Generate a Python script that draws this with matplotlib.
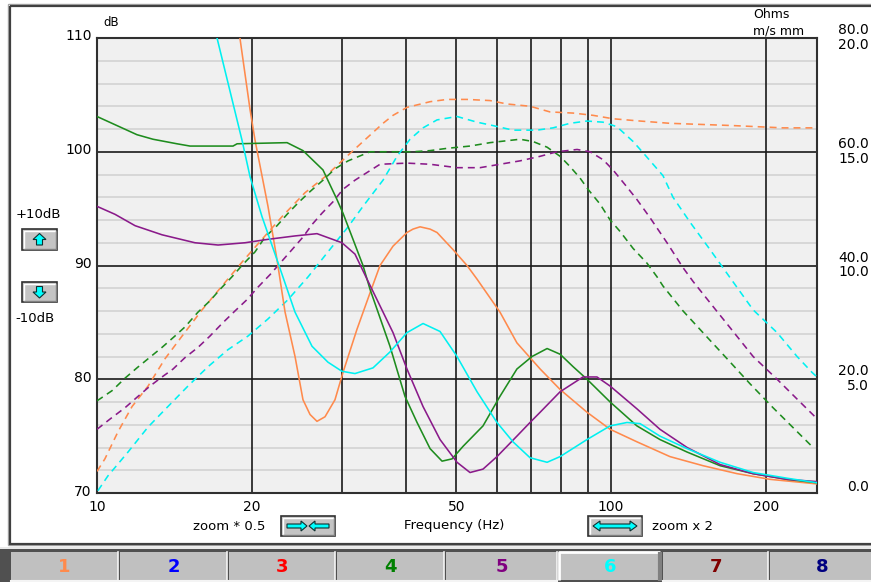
import matplotlib
matplotlib.use("Agg")
import matplotlib.pyplot as plt
import matplotlib.transforms as mtransforms
from matplotlib.patches import Rectangle, Polygon

plt.rcParams['font.family'] = ['DejaVu Sans']
plt.rcParams['lines.scale_dashes'] = False

# ---------------- data (frequency in Hz, level in dB) ----------------
orange_f = [18.97, 19.85, 20.30, 21.51, 22.40, 23.22, 24.28, 25.16, 25.97, 26.79, 27.77, 29.04,
            30.1, 32.05, 33.98, 35.53, 37.66, 38.86, 40.09, 41.19, 42.51, 44.46, 45.87, 49.27,
            52.46, 54.87, 60.81, 65.6, 72.8, 79.6, 89.8, 99.6, 112.3, 130.2, 151.0, 175.9,
            203.9, 251.6]
orange_db = [110, 103.7, 101.0, 95.2, 90.5, 85.9, 82.0, 78.2, 76.9, 76.3, 76.7, 78.2,
             80.6, 84.4, 87.6, 90.0, 91.7, 92.3, 92.9, 93.2, 93.4, 93.2, 92.9, 91.4,
             90.0, 88.8, 85.9, 83.2, 80.9, 79.1, 77.1, 75.6, 74.5, 73.2, 72.4, 71.7,
             71.2, 70.8]

green_f = [10.0, 11.96, 12.85, 14.31, 15.17, 18.39, 18.73, 23.43, 25.16, 27.52, 29.30, 30.1,
           31.48, 32.92, 33.98, 37.15, 39.73, 41.94, 44.46, 46.91, 49.06, 51.53, 56.36, 60.81,
           65.6, 70.2, 75.1, 79.6, 84.4, 89.8, 99.6, 112.3, 124.5, 140.6, 163.0, 189.0, 220.0, 251.6]
green_db = [103.1, 101.5, 101.1, 100.7, 100.5, 100.5, 100.7, 100.8, 100.1, 98.4, 95.8, 94.6,
            92.3, 90.0, 87.9, 82.9, 78.5, 76.2, 73.9, 72.8, 73.0, 74.1, 75.9, 78.5,
            80.9, 82.0, 82.7, 82.2, 81.1, 80.0, 78.0, 75.9, 74.7, 73.6, 72.4, 71.7, 71.2, 70.9]

purple_f = [10.0, 10.84, 11.86, 13.38, 15.51, 17.20, 19.41, 21.51, 24.28, 26.79, 29.96, 31.76,
            33.52, 37.66, 40.09, 43.08, 46.49, 50.16, 53.17, 56.36, 60.0, 65.6, 69.57, 72.8,
            79.6, 88.2, 93.9, 99.6, 112.3, 124.5, 140.6, 163.0, 189.0, 220.0, 251.6]
purple_db = [95.2, 94.5, 93.5, 92.7, 92.0, 91.8, 92.0, 92.3, 92.6, 92.8, 92.0, 91.0,
             88.8, 84.1, 80.9, 77.6, 74.7, 72.7, 71.8, 72.1, 73.2, 75.0, 76.2, 77.1,
             78.9, 80.2, 80.2, 79.4, 77.4, 75.6, 74.0, 72.5, 71.7, 71.2, 71.0]

cyan_f = [17.12, 19.15, 19.85, 20.94, 22.40, 24.28, 26.20, 28.14, 29.96, 31.76, 34.43, 37.15,
          40.09, 43.08, 46.49, 50.16, 54.87, 60.0, 64.46, 69.57, 75.1, 79.6, 89.8, 99.6,
          107.4, 113.9, 124.5, 140.6, 163.0, 189.0, 220.0, 251.6]
cyan_db = [110, 101.0, 97.8, 94.3, 90.5, 85.9, 82.9, 81.5, 80.7, 80.5, 81.0, 82.4,
           84.1, 84.9, 84.2, 82.0, 78.9, 76.2, 74.5, 73.1, 72.7, 73.2, 74.7, 75.9,
           76.2, 76.1, 75.0, 73.9, 72.7, 71.8, 71.3, 70.9]

orange_d_f = [10.0, 10.36, 10.99, 11.70, 12.57, 13.56, 14.64, 16.01, 17.51, 19.15, 20.94, 22.91,
              25.39, 27.77, 30.8, 36.01, 37.66, 40.09, 44.46, 47.97, 52.46, 58.15, 62.75, 69.57,
              76.1, 84.4, 92.3, 100.9, 113.9, 130.2, 172.8, 216.1, 251.6]
orange_d_db = [71.9, 73.0, 75.4, 77.6, 79.4, 81.8, 83.8, 86.1, 88.2, 90.3, 92.3, 94.3,
               96.4, 97.8, 99.7, 102.5, 103.2, 103.9, 104.4, 104.6, 104.6, 104.5, 104.2, 104.0,
               103.5, 103.4, 103.2, 102.9, 102.7, 102.5, 102.3, 102.1, 102.1]

green_d_f = [10.0, 10.70, 11.34, 11.96, 12.57, 13.38, 14.18, 14.83, 15.72, 16.59, 17.35, 18.30,
             19.23, 20.30, 21.23, 22.40, 23.43, 24.61, 25.97, 27.52, 29.04, 30.8, 33.98, 41.19,
             44.46, 47.97, 53.17, 58.15, 63.6, 66.53, 70.5, 75.1, 79.6, 83.2, 87.0, 90.2,
             95.2, 99.6, 104.1, 110.4, 117.5, 122.9, 126.2, 138.1, 153.8, 168.2, 186.4, 206.6,
             230.1, 247.2]
green_d_db = [78.1, 79.0, 80.1, 81.0, 81.8, 82.8, 83.8, 84.6, 85.9, 86.9, 87.9, 89.0,
              90.1, 91.2, 92.5, 93.5, 94.5, 95.5, 96.5, 97.5, 98.5, 99.2, 100.0, 100.0,
              100.1, 100.3, 100.5, 100.8, 101.0, 101.1, 100.9, 100.4, 99.6, 98.7, 97.7, 96.7,
              95.4, 94.0, 93.0, 91.5, 90.2, 89.0, 88.2, 86.0, 83.7, 81.8, 79.6, 77.5,
              75.4, 74.0]

purple_d_f = [10.0, 10.60, 11.34, 12.02, 12.68, 13.38, 14.06, 14.83, 15.72, 16.59, 17.51, 18.55,
              19.58, 20.57, 21.71, 22.91, 23.96, 25.16, 26.20, 27.40, 28.78, 30.1, 31.76, 35.53,
              40.09, 44.46, 50.16, 55.61, 60.81, 66.53, 72.8, 78.5, 85.9, 91.0, 96.5, 100.9,
              107.4, 112.3, 119.1, 128.5, 138.1, 144.4, 157.9, 172.8, 189.0, 210.4, 233.2, 249.4]
purple_d_db = [75.6, 76.5, 77.5, 78.5, 79.4, 80.2, 80.9, 81.9, 82.8, 83.8, 84.9, 86.0,
               87.0, 88.1, 89.2, 90.4, 91.4, 92.5, 93.6, 94.6, 95.6, 96.7, 97.5, 98.9,
               99.0, 98.9, 98.6, 98.6, 98.9, 99.2, 99.6, 100.0, 100.2, 100.0, 99.3, 98.4,
               96.9, 95.8, 94.2, 92.0, 89.8, 88.6, 86.4, 84.2, 82.0, 80.0, 78.0, 76.7]

cyan_d_f = [10.04, 10.50, 11.49, 12.57, 13.74, 15.03, 16.44, 17.98, 19.67, 21.51, 23.53, 25.74,
            28.14, 30.8, 32.92, 36.01, 38.34, 40.64, 43.08, 45.87, 50.16, 54.87, 58.94, 64.46,
            71.8, 77.1, 83.2, 89.8, 96.5, 102.7, 110.4, 115.0, 126.2, 132.0, 142.5, 155.8,
            170.0, 189.0, 210.4, 230.1, 246.1, 251.6]
cyan_d_db = [70.2, 71.5, 73.6, 75.8, 77.6, 79.4, 81.1, 82.6, 83.8, 85.3, 87.0, 89.0,
             91.2, 93.4, 95.2, 97.5, 99.6, 101.1, 102.1, 102.8, 103.1, 102.6, 102.3, 101.9,
             101.9, 102.1, 102.5, 102.7, 102.6, 102.2, 100.9, 100.0, 97.9, 96.0, 93.8, 91.4,
             89.0, 86.1, 84.1, 82.0, 80.6, 80.2]

x_ticks = [10, 20, 50, 100, 200]
x_tick_labels = ["10", "20", "50", "100", "200"]
x_major_lines = [20, 30, 40, 50, 60, 70, 80, 90, 100, 200]
y_ticks = [70, 80, 90, 100, 110]
y_major_lines = [80, 90, 100]
y_minor_lines = [72, 74, 76, 78, 82, 84, 86, 88, 92, 94, 96, 98, 102, 104, 106, 108]
right_labels = [(110, "80.0", "20.0"), (100, "60.0", "15.0"), (90, "40.0", "10.0"), (80, "20.0", "5.0")]
tab_labels = ["1", "2", "3", "4", "5", "6", "7", "8"]

ORANGE = '#ff8a4c'
GREEN = '#1e8c1e'
PURPLE = '#8a1a8a'
CYAN = '#00f0f0'
tab_colors = [ORANGE, '#0000ff', '#ff0000', '#008000', '#800080', '#00ffff', '#800000', '#000080']

W, H = 871, 582
fig = plt.figure(figsize=(W / 100, H / 100), dpi=100)
fig.patch.set_facecolor('white')

# ---------- overlay axes in pixel coordinates for panel decorations ----------
ov = fig.add_axes([0, 0, 1, 1], zorder=0)
ov.set_xlim(0, W)
ov.set_ylim(H, 0)
ov.axis('off')

# outer panel frame
ov.add_patch(Rectangle((7.5, 3.5), 900, 541, fill=False, ec='#a8a8a8', lw=1.0))
ov.add_patch(Rectangle((9.5, 5.5), 900, 538, fill=False, ec='#404040', lw=1.6))

# tab bar
ov.add_patch(Rectangle((0, 547), W, 35, fc='#e8e8e8', ec='none'))
ov.add_patch(Rectangle((0, 549), W, 33, fc='#505050', ec='none'))
tab_edges = [10, 119, 228, 336, 445, 558, 662, 769, 875]
for i, lab in enumerate(tab_labels):
    x0, x1 = tab_edges[i], tab_edges[i + 1]
    ov.add_patch(Rectangle((x0 + 1, 552), x1 - x0 - 2, 28, fc='#c0c0c0', ec='none'))
    if i == 5:
        ov.plot([x0 + 1, x0 + 1, x1 - 2], [580, 552, 552], color='white', lw=2.0, solid_capstyle='butt')
        ov.plot([x1 - 2, x1 - 2], [552, 581], color='#808080', lw=3.0, solid_capstyle='butt')
    else:
        ov.plot([x0 + 1, x1 - 1], [580.5, 580.5], color='#f4f4f4', lw=1.5)
        ov.plot([x1 - 1, x1 - 1], [552, 580], color='#f4f4f4', lw=1.2)
    ov.text((x0 + x1) / 2, 567, lab, color=tab_colors[i], fontsize=13, fontweight='bold',
            ha='center', va='center')


def button(x0, y0, x1, y1):
    ov.add_patch(Rectangle((x0, y0), x1 - x0, y1 - y0, fc='#c4c4c4', ec='#303030', lw=1.2))
    ov.plot([x0 + 1.5, x0 + 1.5, x1 - 2], [y1 - 2, y0 + 1.5, y0 + 1.5], color='white', lw=1.0)
    ov.plot([x0 + 2, x1 - 1.5, x1 - 1.5], [y1 - 1.5, y1 - 1.5, y0 + 2], color='#808080', lw=1.0)


def poly(pts):
    ov.add_patch(Polygon(pts, closed=True, fc='#00ffff', ec='#103030', lw=0.8))


# +10 dB / -10 dB buttons
ov.text(16, 215, "+10dB", fontsize=9.5, ha='left', va='center')
button(22, 229, 57, 250)
cx, cy = 39.5, 239.5
poly([(cx, cy - 6), (cx + 6.5, cy), (cx + 3, cy), (cx + 3, cy + 5.5), (cx - 3, cy + 5.5),
      (cx - 3, cy), (cx - 6.5, cy)])
button(22, 282, 57, 302)
cx, cy = 39.5, 292
poly([(cx, cy + 6), (cx + 6.5, cy), (cx + 3, cy), (cx + 3, cy - 5.5), (cx - 3, cy - 5.5),
      (cx - 3, cy), (cx - 6.5, cy)])
ov.text(15, 318, "-10dB", fontsize=9.5, ha='left', va='center')


def arrow_right(xa, xb, cy):
    poly([(xa, cy - 2), (xb - 6, cy - 2), (xb - 6, cy - 5), (xb, cy), (xb - 6, cy + 5),
          (xb - 6, cy + 2), (xa, cy + 2)])


def arrow_left(xa, xb, cy):
    poly([(xa, cy - 2), (xb + 6, cy - 2), (xb + 6, cy - 5), (xb, cy), (xb + 6, cy + 5),
          (xb + 6, cy + 2), (xa, cy + 2)])


# zoom buttons
ov.text(193, 526, "zoom * 0.5", fontsize=9.5, ha='left', va='center')
button(281, 516, 335, 536)
arrow_right(287, 307, 526)
arrow_left(329, 309, 526)
ov.text(454, 526, "Frequency (Hz)", fontsize=9.5, ha='center', va='center')
button(588, 516, 642, 536)
poly([(593, 526), (600, 521), (600, 524), (630, 524), (630, 521), (637, 526), (630, 531),
      (630, 528), (600, 528), (600, 531)])
ov.text(652, 526, "zoom x 2", fontsize=9.5, ha='left', va='center')

# unit labels
ov.text(103, 23, "dB", fontsize=8.5, ha='left', va='center')
ov.text(753, 15, "Ohms", fontsize=9, ha='left', va='center')
ov.text(753, 31, "m/s mm", fontsize=9, ha='left', va='center')

# ---------------- main chart ----------------
ax = fig.add_axes([97 / W, 1 - 493 / H, 720 / W, 455 / H], zorder=1)
ax.set_facecolor('#f0f0f0')
ax.set_xscale('log')
ax.set_xlim(10, 251.6)
ax.set_ylim(70, 110)

for v in y_minor_lines:
    ax.axhline(v, color='#d2d2d2', lw=1.2, zorder=1)
for v in y_major_lines:
    ax.axhline(v, color='#1a1a1a', lw=1.2, zorder=2)
for v in x_major_lines:
    ax.axvline(v, color='#1a1a1a', lw=1.2, zorder=2)

lw = 1.15
dash = (0, (5, 3.6))
ax.plot(orange_f, orange_db, color=ORANGE, lw=lw, zorder=4)
ax.plot(green_f, green_db, color=GREEN, lw=lw, zorder=4)
ax.plot(purple_f, purple_db, color=PURPLE, lw=lw, zorder=4)
ax.plot(cyan_f, cyan_db, color=CYAN, lw=lw, zorder=4)
ax.plot(orange_d_f, orange_d_db, color=ORANGE, lw=lw, ls=dash, zorder=3)
ax.plot(green_d_f, green_d_db, color=GREEN, lw=lw, ls=dash, zorder=3)
ax.plot(purple_d_f, purple_d_db, color=PURPLE, lw=lw, ls=dash, zorder=3)
ax.plot(cyan_d_f, cyan_d_db, color=CYAN, lw=lw, ls=dash, zorder=3)

ax.minorticks_off()
ax.set_xticks(x_ticks)
ax.set_xticklabels(x_tick_labels, fontsize=10)
ax.set_yticks(y_ticks)
ax.set_yticklabels([str(v) for v in y_ticks], fontsize=10)
ax.tick_params(axis='both', length=0)
ax.tick_params(axis='x', pad=5)
ax.tick_params(axis='y', pad=4)
off = mtransforms.ScaledTranslation(0, 3 / 100, fig.dpi_scale_trans)
for lab in ax.get_yticklabels():
    lab.set_transform(lab.get_transform() + off)

for s in ax.spines.values():
    s.set_color('#303030')
    s.set_linewidth(1.5)

# right-hand secondary scale labels
tr = mtransforms.blended_transform_factory(fig.transFigure, ax.transData)
up = mtransforms.ScaledTranslation(0, 8 / 100, fig.dpi_scale_trans)
dn = mtransforms.ScaledTranslation(0, -7 / 100, fig.dpi_scale_trans)
for lvl, a, b in right_labels:
    ax.text(869 / W, lvl, a, transform=tr + up, fontsize=10, ha='right', va='center', clip_on=False)
    ax.text(869 / W, lvl, b, transform=tr + dn, fontsize=10, ha='right', va='center', clip_on=False)
ax.text(869 / W, 70, "0.0", transform=tr + mtransforms.ScaledTranslation(0, 6 / 100, fig.dpi_scale_trans),
        fontsize=10, ha='right', va='center', clip_on=False)

fig.savefig("out.png", dpi=100, facecolor='white')
